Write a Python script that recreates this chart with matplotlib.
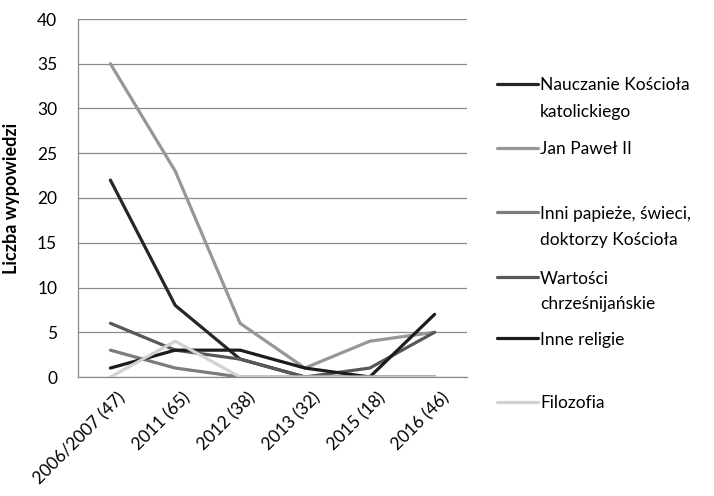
import matplotlib
matplotlib.use("Agg")
import matplotlib.pyplot as plt
import matplotlib.transforms as mtransforms
from matplotlib.lines import Line2D

plt.rcParams['font.family'] = ['Lato', 'DejaVu Sans']

# Data
categories = ["2006/2007 (47)", "2011 (65)", "2012 (38)", "2013 (32)", "2015 (18)", "2016 (46)"]
series_names = ["Nauczanie Kościoła\nkatolickiego", "Jan Paweł II",
                "Inni papieże, świeci,\ndoktorzy Kościoła", "Wartości\nchrześnijańskie",
                "Inne religie", "Filozofia"]
nauczanie = [22, 8, 2, 0, 0, 0]
jan_pawel = [35, 23, 6, 1, 4, 5]
inni_papieze = [3, 1, 0, 0, 0, 0]
wartosci = [6, 3, 2, 0, 1, 5]
inne_religie = [1, 3, 3, 1, 0, 7]
filozofia = [0, 4, 0, 0, 0, 0]
values = [nauczanie, jan_pawel, inni_papieze, wartosci, inne_religie, filozofia]
colors = ["#262626", "#979797", "#7c7c7c", "#585858", "#1c1c1c", "#d2d2d2"]

W, H = 714, 496
fig = plt.figure(figsize=(W / 100, H / 100), dpi=100)
ax = fig.add_axes([78 / W, 1 - 377 / H, (467 - 78) / W, (377 - 19) / H])

x = list(range(len(categories)))
for vals, c in zip(values, colors):
    ax.plot(x, vals, color=c, lw=2.3, solid_capstyle='round', solid_joinstyle='round')

ax.set_xlim(-0.5, len(categories) - 0.5)
ax.set_ylim(0, 40)
ax.set_yticks(range(0, 41, 5))
ax.yaxis.grid(True, color="#8a8a8a", lw=0.9)
ax.set_axisbelow(True)
for s in ["top", "right"]:
    ax.spines[s].set_visible(False)
for s in ["left", "bottom"]:
    ax.spines[s].set_color("#8a8a8a")
    ax.spines[s].set_linewidth(0.9)
ax.tick_params(axis='y', length=0, labelsize=12.5, pad=15)
ax.tick_params(axis='x', length=0, labelsize=12.5, pad=9)
ax.set_xticks(x)
ax.set_xticklabels(categories, rotation=45, ha='right', va='top', rotation_mode='anchor')
offx = mtransforms.ScaledTranslation(7 / 100, 0, fig.dpi_scale_trans)
for lbl in ax.get_xticklabels():
    lbl.set_transform(lbl.get_transform() + offx)
ax.set_ylabel("Liczba wypowiedzi", fontsize=13, fontweight='bold')
ax.yaxis.set_label_coords(-(78 - 20) / (467 - 78), 0.5)

# Legend drawn on the right
leg_y = [84, 148, 212, 277, 338, 402]
for name, c, yy in zip(series_names, colors, leg_y):
    fy = 1 - yy / H
    fig.add_artist(Line2D([497 / W, 538 / W], [fy, fy], color=c, lw=2.3,
                          solid_capstyle='round', transform=fig.transFigure))
    for i, line in enumerate(name.split("\n")):
        fig.text(540 / W, 1 - (yy + i * 26) / H, line, fontsize=12.5,
                 va='center_baseline', ha='left')

fig.savefig("out.png", dpi=100)
